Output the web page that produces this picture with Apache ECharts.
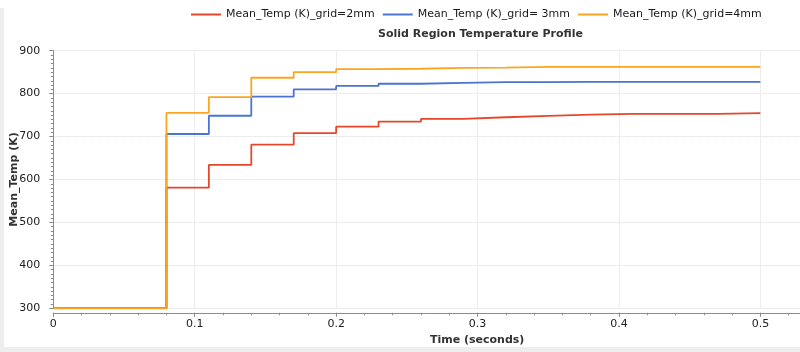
<!DOCTYPE html>
<html>
<head>
<meta charset="utf-8">
<script src="https://cdn.jsdelivr.net/npm/echarts@6/dist/echarts.min.js"></script>
<style>
html,body{margin:0;padding:0;background:#fff;}
#strip-left{position:absolute;left:0;top:8px;width:4px;height:344px;background:#eeeeee;}
#strip-bottom{position:absolute;left:0;top:347px;width:800px;height:5px;background:#eeeeee;}
#chart{position:absolute;left:0;top:0;width:800px;height:352px;}
</style>
</head>
<body>
<div id="strip-left"></div>
<div id="strip-bottom"></div>
<div id="chart"></div>
<script>
const chartTitle = 'Solid Region Temperature Profile';
const xAxisName = 'Time (seconds)';
const yAxisName = 'Mean_Temp (K)';
const seriesNames = ['Mean_Temp (K)_grid=2mm', 'Mean_Temp (K)_grid= 3mm', 'Mean_Temp (K)_grid=4mm'];
const time = [0, 0.08, 0.11, 0.14, 0.17, 0.20, 0.23, 0.26, 0.29, 0.32, 0.35, 0.38, 0.41, 0.44, 0.47, 0.50];
const temp2mm = [300, 581, 634, 681, 708, 723, 735, 741, 745, 748, 751, 753, 753, 753, 754.5, 754.5];
const temp3mm = [300, 706, 748.5, 793, 810, 818, 823, 825, 827, 827, 827.5, 827.5, 827.5, 827.5, 827.5, 827.5];
const temp4mm = [300, 755, 792, 837, 850, 857, 858, 860, 860.5, 862.5, 862.5, 862.5, 862.5, 862.5, 862.5, 862.5];
const colors = ['#e4472a', '#4a74cf', '#fba521'];

const font = 'DejaVu Sans';
const pair = arr => time.map((t, i) => [t, arr[i]]);
const allData = [temp2mm, temp3mm, temp4mm];

const chart = echarts.init(document.getElementById('chart'), null, {renderer: 'canvas'});
chart.setOption({
  animation: false,
  backgroundColor: 'transparent',
  title: {
    text: chartTitle,
    left: 480.5, top: 29, padding: 0,
    textAlign: 'center',
    textStyle: {fontFamily: font, fontSize: 11, fontWeight: 'bold', color: '#333'}
  },
  legend: {
    left: 191, top: 9, padding: 0,
    itemWidth: 30, itemHeight: 2, itemGap: 8,
    icon: 'rect',
    textStyle: {fontFamily: font, fontSize: 11, color: '#1a1a1a'},
    data: seriesNames
  },
  grid: {left: 53.3, right: 0, top: 50.7, bottom: 43.7, containLabel: false, outerBoundsMode: 'none'},
  xAxis: [{
    type: 'value', min: 0, max: 0.528, interval: 0.1,
    offset: 4.5,
    axisLine: {show: true, lineStyle: {color: '#8c8c8c', width: 1}},
    axisTick: {show: true, length: 4, lineStyle: {color: '#8c8c8c'}},
    axisLabel: {showMaxLabel: false, fontFamily: font, fontSize: 11, color: '#222', margin: 6,
      formatter: v => (Math.round(v * 10) / 10).toString()},
    splitLine: {show: true, lineStyle: {color: '#dcdcdc', type: 'dotted', width: 1}},
    name: xAxisName, nameLocation: 'middle', nameGap: 22, nameMoveOverlap: false,
    nameTextStyle: {fontFamily: font, fontSize: 11, fontWeight: 'bold', color: '#333', padding: [0, 0, 0, 101]}
  }, {
    type: 'value', min: 0, max: 0.528, interval: 0.02,
    offset: 4.5, position: 'bottom',
    axisLine: {show: false},
    axisTick: {show: true, length: 2.5, lineStyle: {color: '#8c8c8c'}},
    axisLabel: {show: false},
    splitLine: {show: false}
  }],
  yAxis: {
    type: 'value', min: 300, max: 900, interval: 100,
    offset: 4,
    axisLine: {show: true, lineStyle: {color: '#8c8c8c', width: 1}},
    axisTick: {show: true, length: 4, lineStyle: {color: '#8c8c8c'}},
    minorTick: {show: true, splitNumber: 10, length: 2.5, lineStyle: {color: '#8c8c8c'}},
    axisLabel: {fontFamily: font, fontSize: 11, color: '#222', margin: 9},
    splitLine: {show: true, lineStyle: {color: '#dcdcdc', type: 'dotted', width: 1}},
    name: yAxisName, nameLocation: 'middle', nameGap: 30, nameMoveOverlap: false,
    nameTextStyle: {fontFamily: font, fontSize: 11, fontWeight: 'bold', color: '#333'}
  },
  series: seriesNames.map((n, i) => ({
    name: n, type: 'line', step: 'end',
    data: pair(allData[i]),
    showSymbol: false, symbol: 'none',
    color: colors[i],
    lineStyle: {width: 1.8, color: colors[i]},
    z: 2 + i
  }))
});
</script>
</body>
</html>
